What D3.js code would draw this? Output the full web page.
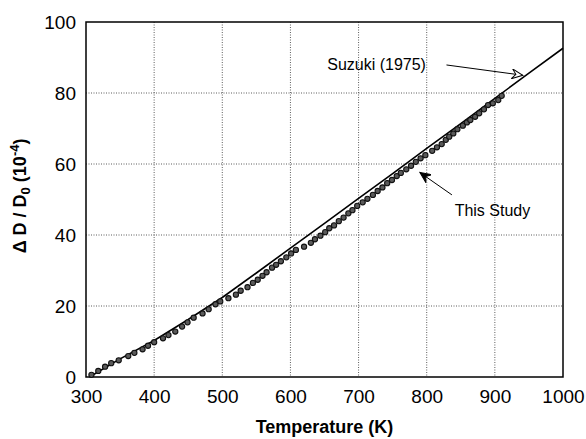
<!DOCTYPE html>
<html>
<head>
<meta charset="utf-8">
<script src="https://cdn.jsdelivr.net/npm/d3@7"></script>
<style>
  body { margin: 0; background: #fff; }
  text { font-family: "Liberation Sans", Arial, sans-serif; fill: #000; }
</style>
</head>
<body>
<div id="chart"></div>
<script>
// Tick values
const xTicks = [300, 400, 500, 600, 700, 800, 900, 1000];
const yTicks = [0, 20, 40, 60, 80, 100];

// Suzuki (1975) curve
const suzukiT = [305, 350, 400, 450, 500, 550, 600, 650, 700, 750, 800, 850, 900, 950, 1000];
const suzukiV = [0, 5.1, 10.3, 16.2, 22.4, 29.3, 36.3, 43.3, 50.3, 57.3, 64.4, 71.4, 78.5, 85.6, 92.6];

// This study (measured points)
const studyT = [308, 318, 328, 337, 348, 362, 371, 383, 391, 400, 413, 421, 431, 441, 449,
  458, 471, 480, 490, 497, 509, 520, 527, 537, 545, 552, 559, 565, 573, 579, 586, 594,
  601, 608, 620, 630, 636, 644, 651, 657, 664, 671, 678, 685, 691, 698, 706, 713, 721,
  728, 735, 742, 749, 756, 762, 770, 777, 784, 791, 798, 808, 815, 822, 828, 833, 839,
  845, 853, 859, 864, 871, 877, 884, 890, 897, 905, 910];
const studyV = [0.6, 1.7, 2.9, 3.9, 4.7, 5.9, 6.8, 7.8, 8.8, 9.8, 10.9, 11.8, 12.8, 14.2, 15.4,
  16.7, 17.9, 19.1, 20.5, 21.3, 22.2, 23.2, 24.3, 25.3, 26.5, 27.4, 28.5, 29.5, 30.8, 31.6, 32.6, 33.7,
  34.8, 35.8, 36.7, 37.8, 38.8, 39.8, 40.8, 41.9, 42.7, 43.9, 44.9, 46.1, 47.0, 48.2, 49.2, 50.2, 51.3,
  52.4, 53.4, 54.6, 55.5, 56.6, 57.5, 58.5, 59.5, 60.6, 61.6, 62.5, 63.7, 64.7, 65.6, 66.8, 67.7, 68.6,
  69.8, 70.8, 71.7, 72.4, 73.3, 74.3, 75.4, 76.6, 77.1, 78.0, 79.2];

const margin = { top: 22, right: 23, bottom: 62, left: 86 };
const width = 586 - margin.left - margin.right;
const height = 439 - margin.top - margin.bottom;

const svg = d3.select("#chart")
  .append("svg")
  .attr("width", 586)
  .attr("height", 439)
  .append("g")
  .attr("transform", `translate(${margin.left},${margin.top})`);

const x = d3.scaleLinear().domain([300, 1000]).range([0, width]);
const y = d3.scaleLinear().domain([0, 100]).range([height, 0]);

// Dotted grid
svg.append("g")
  .selectAll("line")
  .data(xTicks.slice(1, -1))
  .enter().append("line")
  .attr("x1", d => x(d)).attr("x2", d => x(d))
  .attr("y1", 0).attr("y2", height)
  .attr("stroke", "#333").attr("stroke-width", 0.8)
  .attr("stroke-dasharray", "1,1.5");

svg.append("g")
  .selectAll("line")
  .data(yTicks.slice(1, -1))
  .enter().append("line")
  .attr("y1", d => y(d)).attr("y2", d => y(d))
  .attr("x1", 0).attr("x2", width)
  .attr("stroke", "#333").attr("stroke-width", 0.8)
  .attr("stroke-dasharray", "1,1.5");

// Axes (labels only)
const xAxis = svg.append("g")
  .attr("transform", `translate(0,${height})`)
  .call(d3.axisBottom(x).tickValues(xTicks).tickFormat(d3.format("d")).tickSize(0).tickPadding(13));
const yAxis = svg.append("g")
  .call(d3.axisLeft(y).tickValues(yTicks).tickFormat(d3.format("d")).tickSize(0).tickPadding(10));
[xAxis, yAxis].forEach(a => {
  a.select(".domain").remove();
  a.selectAll("text").style("font-size", "19px").style("font-family", "Liberation Sans, Arial, sans-serif").attr("fill", "#000");
});

// Frame
svg.append("rect")
  .attr("width", width).attr("height", height)
  .attr("fill", "none").attr("stroke", "#000").attr("stroke-width", 1.5);

// Suzuki line
const line = d3.line().x(d => x(d[0])).y(d => y(d[1]));
svg.append("path")
  .datum(d3.zip(suzukiT, suzukiV))
  .attr("fill", "none").attr("stroke", "#000").attr("stroke-width", 1.6)
  .attr("d", line);

// Study points
svg.selectAll(".pt")
  .data(d3.zip(studyT, studyV))
  .enter().append("circle")
  .attr("cx", d => x(d[0])).attr("cy", d => y(d[1]))
  .attr("r", 2.6)
  .attr("fill", "#5a5a5a").attr("stroke", "#111").attr("stroke-width", 1.1);

// Arrow heads
const defs = svg.append("defs");
defs.append("marker")
  .attr("id", "arrowOpen")
  .attr("viewBox", "0 0 12 10").attr("refX", 11).attr("refY", 5)
  .attr("markerWidth", 12).attr("markerHeight", 10).attr("markerUnits", "userSpaceOnUse")
  .attr("orient", "auto")
  .append("path").attr("d", "M0,0 L11,5 L0,10 L4,5 Z")
  .attr("fill", "#fff").attr("stroke", "#000").attr("stroke-width", 1);
defs.append("marker")
  .attr("id", "arrowFill")
  .attr("viewBox", "0 0 12 10").attr("refX", 11).attr("refY", 5)
  .attr("markerWidth", 12).attr("markerHeight", 10).attr("markerUnits", "userSpaceOnUse")
  .attr("orient", "auto")
  .append("path").attr("d", "M0,0 L11,5 L0,10 L4,5 Z")
  .attr("fill", "#000").attr("stroke", "#000").attr("stroke-width", 1);

// Annotations
const notes = [
  { text: "Suzuki (1975)", tx: 654, ty: 86.5, from: [829, 87.9], to: [941, 85.0], marker: "arrowOpen" },
  { text: "This Study", tx: 841, ty: 45.4, from: [837, 51.3], to: [790, 57.6], marker: "arrowFill" }
];
notes.forEach(n => {
  svg.append("text")
    .attr("x", x(n.tx)).attr("y", y(n.ty))
    .style("font-size", "16px")
    .text(n.text);
  svg.append("line")
    .attr("x1", x(n.from[0])).attr("y1", y(n.from[1]))
    .attr("x2", x(n.to[0])).attr("y2", y(n.to[1]))
    .attr("stroke", "#000").attr("stroke-width", 1)
    .attr("marker-end", `url(#${n.marker})`);
});

// Axis titles
svg.append("text")
  .attr("x", width / 2).attr("y", height + 56)
  .attr("text-anchor", "middle")
  .style("font-size", "18px").style("font-weight", "bold")
  .text("Temperature (K)");

const yTitle = svg.append("text")
  .attr("transform", `translate(${-60},${y(51)}) rotate(-90)`)
  .attr("text-anchor", "middle")
  .style("font-size", "18px").style("font-weight", "bold");
yTitle.append("tspan").text("Δ D / D");
yTitle.append("tspan").attr("dy", 4).style("font-size", "13px").text("0");
yTitle.append("tspan").attr("dy", -4).text(" (10");
yTitle.append("tspan").attr("dy", -7).style("font-size", "13px").text("-4");
yTitle.append("tspan").attr("dy", 7).text(")");
</script>
</body>
</html>
